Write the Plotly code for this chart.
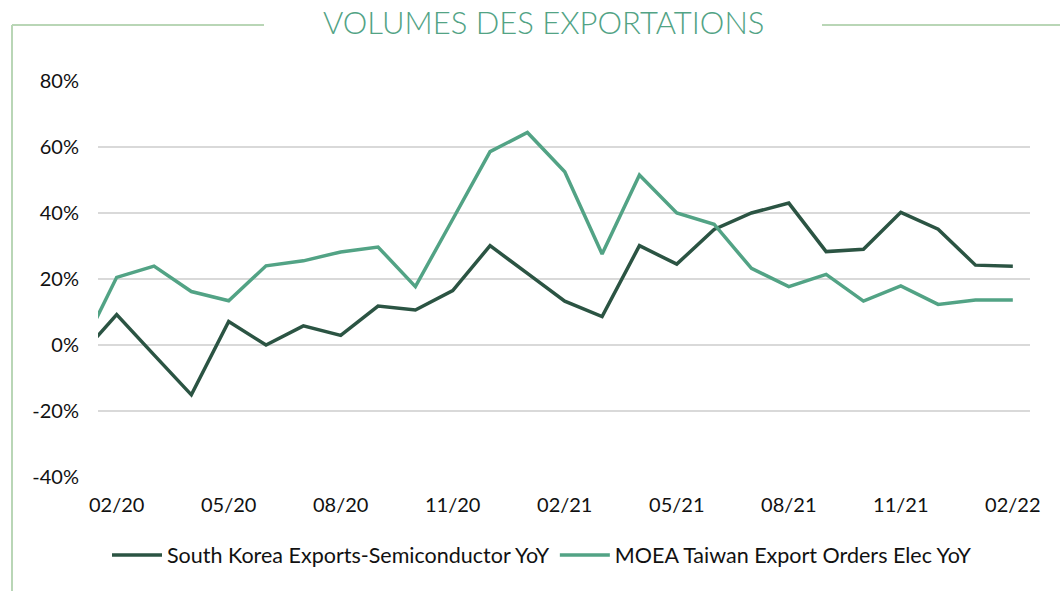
import plotly.graph_objects as go

months = ["01/20", "02/20", "03/20", "04/20", "05/20", "06/20", "07/20", "08/20", "09/20",
          "10/20", "11/20", "12/20", "01/21", "02/21", "03/21", "04/21", "05/21", "06/21",
          "07/21", "08/21", "09/21", "10/21", "11/21", "12/21", "01/22", "02/22"]
korea = [-3.5, 9.2, -3.0, -15.1, 7.1, 0.0, 5.8, 2.9, 11.8, 10.6, 16.5, 30.1, 21.7, 13.3,
         8.6, 30.1, 24.5, 35.0, 40.0, 43.0, 28.3, 29.0, 40.2, 35.1, 24.2, 23.9]
taiwan = [-2.5, 20.5, 23.9, 16.2, 13.4, 24.0, 25.5, 28.2, 29.7, 17.7, 38.1, 58.6, 64.4, 52.5,
          27.6, 51.5, 40.0, 36.6, 23.2, 17.7, 21.4, 13.3, 17.9, 12.3, 13.6, 13.6]
tick_labels = ["02/20", "05/20", "08/20", "11/20", "02/21", "05/21", "08/21", "11/21", "02/22"]
y_ticks = [-40, -20, 0, 20, 40, 60, 80]

DARK = "#2b5443"
LIGHT = "#52a385"
FRAME = "#b9d6b6"
FONT = "Lato"

W, H = 1060, 591
L, R, T, B = 98, 1030, 81, 477

def px(x):
    return (x - L) / (R - L)

def py(y):
    return (B - y) / (B - T)

idx = list(range(len(months)))
tickvals = [months.index(m) for m in tick_labels]

fig = go.Figure()
fig.add_trace(go.Scatter(x=idx, y=korea, mode="lines", name="South Korea Exports-Semiconductor YoY",
                         line=dict(color=DARK, width=3.5)))
fig.add_trace(go.Scatter(x=idx, y=taiwan, mode="lines", name="MOEA Taiwan Export Orders Elec YoY",
                         line=dict(color=LIGHT, width=3.5)))

fig.update_layout(
    width=W, height=H,
    margin=dict(l=L, r=W - R, t=T, b=H - B),
    paper_bgcolor="white", plot_bgcolor="white",
    font=dict(family=FONT, size=20, color="#111111"),
    showlegend=True,
    legend=dict(orientation="h", x=px(542), xanchor="center", y=py(555), yanchor="middle",
                font=dict(size=21.5), itemwidth=50, tracegroupgap=0),
    xaxis=dict(range=[0.5, 25.46], tickmode="array", tickvals=tickvals, ticktext=tick_labels,
               showgrid=False, zeroline=False, showline=False, ticks="",
               ticklabelstandoff=14, tickfont=dict(size=20)),
    yaxis=dict(range=[-40, 80], tickmode="array", tickvals=y_ticks,
               ticktext=[f"{v}%" for v in y_ticks], showgrid=True, gridcolor="#d9d9d9",
               gridwidth=1.5, zeroline=False, showline=False, ticks="",
               ticklabelstandoff=18, tickfont=dict(size=20)),
    shapes=[
        dict(type="line", xref="paper", yref="paper", x0=px(12), x1=px(12), y0=py(25), y1=py(600),
             line=dict(color=FRAME, width=2)),
        dict(type="line", xref="paper", yref="paper", x0=px(12), x1=px(264), y0=py(25), y1=py(25),
             line=dict(color=FRAME, width=2)),
        dict(type="line", xref="paper", yref="paper", x0=px(822), x1=px(1070), y0=py(25), y1=py(25),
             line=dict(color=FRAME, width=2)),
    ],
    annotations=[
        dict(text="VOLUMES DES EXPORTATIONS", xref="paper", yref="paper", x=px(543), y=py(22),
             xanchor="center", yanchor="middle", showarrow=False,
             font=dict(family=FONT, size=31, weight=300, color=LIGHT)),
    ],
)

fig.write_html("out.html", config={"displayModeBar": False},
               post_script="document.body.style.margin='0';")
